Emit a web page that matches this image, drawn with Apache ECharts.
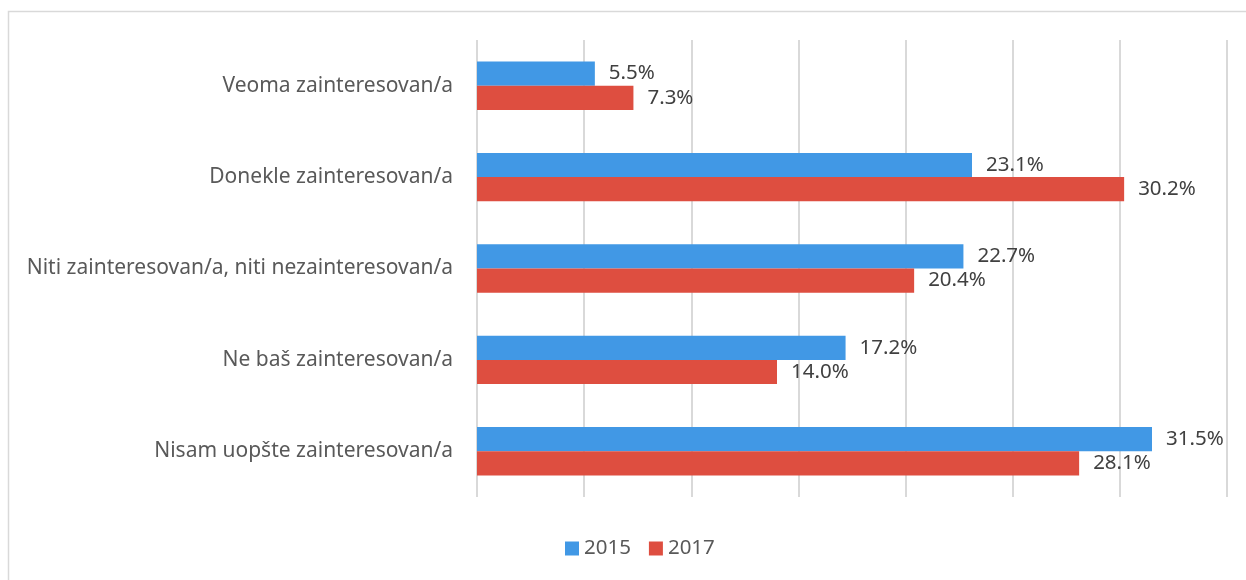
<!DOCTYPE html>
<html>
<head>
<meta charset="utf-8">
<script src="https://cdn.jsdelivr.net/npm/echarts@6/dist/echarts.min.js"></script>
<style>
  html, body { margin: 0; padding: 0; background: #fff; }
  #chart { width: 1246px; height: 580px; }
</style>
</head>
<body>
<div id="chart"></div>
<script>
// kategorije (odozgo nadole)
var categories = [
    'Veoma zainteresovan/a',
    'Donekle zainteresovan/a',
    'Niti zainteresovan/a, niti nezainteresovan/a',
    'Ne baš zainteresovan/a',
    'Nisam uopšte zainteresovan/a'
];
var years = ['2015', '2017'];
var values2015 = [5.5, 23.1, 22.7, 17.2, 31.5];
var values2017 = [7.3, 30.2, 20.4, 14.0, 28.1];

var colors = ['#4198E5', '#DE4E40'];
var font = '"Noto Sans", sans-serif';

var ec = echarts.init(document.getElementById('chart'));

function barSeries(name, data, color) {
    return {
        name: name,
        type: 'bar',
        data: data,
        barGap: '0%',
        barCategoryGap: '47%',
        itemStyle: {color: color},
        label: {
            show: true,
            position: 'right',
            distance: 14,
            color: '#404040',
            fontFamily: font,
            fontSize: 20.5,
            formatter: function (p) {
                return p.value.toFixed(1) + '%';
            }
        }
    };
}

var option = {
    animation: false,
    color: colors,
    graphic: [{
        type: 'rect',
        shape: {x: 8.5, y: 11.5, width: 1300, height: 600},
        style: {fill: 'none', stroke: '#d9d9d9', lineWidth: 1.5}
    }],
    legend: {
        data: years,
        bottom: 16,
        left: 560,
        itemWidth: 14,
        itemHeight: 14,
        itemGap: 18,
        icon: 'rect',
        textStyle: {color: '#595959', fontFamily: font, fontSize: 20.5}
    },
    grid: {left: 477, right: 19, top: 40, bottom: 83},
    xAxis: {
        type: 'value',
        min: 0,
        max: 35,
        interval: 5,
        axisLabel: {show: false},
        axisLine: {show: false},
        axisTick: {show: false},
        splitLine: {show: true, lineStyle: {color: '#d9d9d9', width: 2}}
    },
    yAxis: {
        type: 'category',
        data: categories,
        inverse: true,
        axisLine: {show: false},
        axisTick: {show: false},
        axisLabel: {
            color: '#595959',
            fontFamily: font,
            fontSize: 21,
            margin: 24
        }
    },
    series: [
        barSeries(years[0], values2015, colors[0]),
        barSeries(years[1], values2017, colors[1])
    ]
};

ec.setOption(option);
</script>
</body>
</html>
